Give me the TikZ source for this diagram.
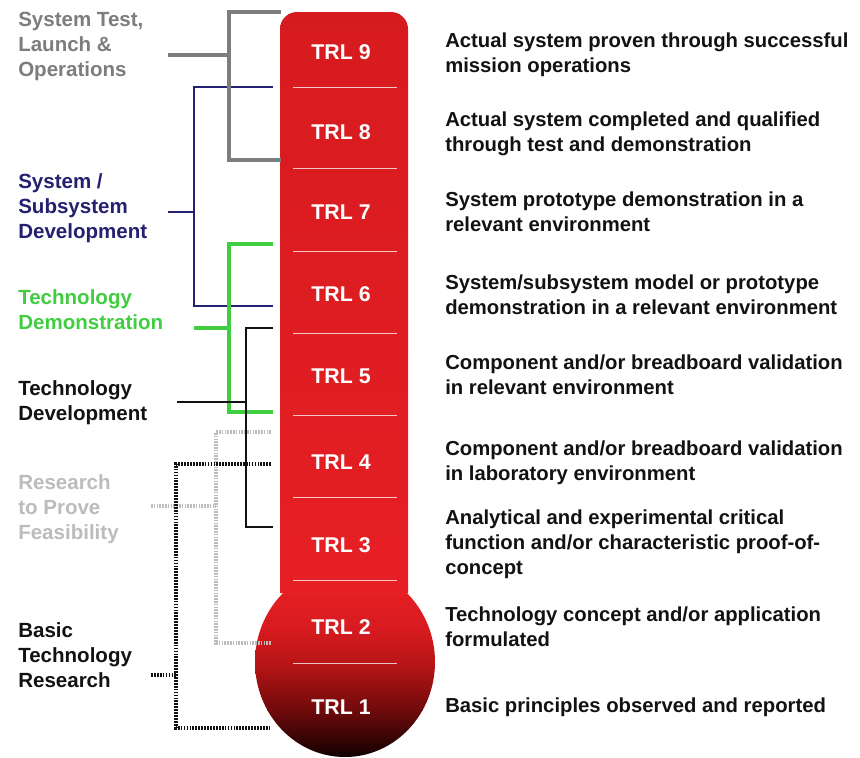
\documentclass[tikz,border=0pt]{standalone}
\usepackage{fontspec}
\setmainfont{Liberation Sans}
\begin{document}
\begin{tikzpicture}[x=0.75pt,y=-0.75pt]
% palette
\definecolor{tubetop}{RGB}{214,27,31}
\definecolor{tubered}{RGB}{230,31,36}
\definecolor{bulbA}{RGB}{214,27,31}
\definecolor{bulbB}{RGB}{182,20,22}
\definecolor{bulbC}{RGB}{112,10,11}
\definecolor{bulbbot}{RGB}{16,0,0}
\definecolor{phasegray}{RGB}{125,125,125}
\definecolor{phasenavy}{RGB}{38,32,112}
\definecolor{phasegreen}{RGB}{64,206,64}
\definecolor{phaselight}{RGB}{188,188,188}
\definecolor{ink}{RGB}{18,18,18}
\tikzset{
  trllabel/.style={text=white,font=\fontsize{16}{18}\selectfont\bfseries,inner sep=0pt},
  desc/.style={anchor=west,align=left,inner sep=0pt,text=ink,
    font=\fontsize{15.2}{18.75}\selectfont\bfseries},
  phase/.style={anchor=west,align=left,inner sep=0pt,
    font=\fontsize{15.4}{18.75}\selectfont\bfseries},
  divider/.style={white,opacity=0.75,line width=0.7pt},
  grayline/.style={phasegray,line width=2.5pt},
  navyline/.style={phasenavy,line width=1.5pt},
  navystub/.style={phasenavy,line width=2pt},
  greenline/.style={phasegreen,line width=2.3pt},
  blackline/.style={ink,line width=2pt},
  lightdots/.style={phaselight,line width=2.5pt,dash pattern=on 1.2pt off 0.9pt},
  blackdots/.style={ink,line width=2.7pt,dash pattern=on 1.3pt off 0.9pt},
}
% colour ramp of the thermometer body, from the top of the tube to the bottom of the bulb
\newcommand{\bodyramp}{%
  \shade[top color=tubetop,bottom color=tubered] (250,10) rectangle (440,590.5);
  \shade[top color=tubered,bottom color=bulbA] (250,590) rectangle (440,630.5);
  \shade[top color=bulbA,bottom color=bulbB] (250,630) rectangle (440,665.5);
  \shade[top color=bulbB,bottom color=bulbC] (250,665) rectangle (440,710.5);
  \shade[top color=bulbC,bottom color=bulbbot] (250,710) rectangle (440,758);
}
\useasboundingbox (0,0) rectangle (860,757);
\fill[white] (0,0) rectangle (860,757);

% thermometer: tube and bulb share one ramp
\begin{scope}
  \clip (280,593) -- (280,29) arc(180:270:17) -- (391,12)
    arc(270:360:17) -- (408,593) -- cycle;
  \bodyramp
\end{scope}
\begin{scope}
  \clip (345,662) ellipse[x radius=90,y radius=95];
  \bodyramp
\end{scope}

% level dividers
\foreach \yy in {87,168,251,333,415,497,580,663}
  \draw[divider] (293,\yy) -- (397,\yy);

% level labels
\node[trllabel] (trl9) at (341,52)  {TRL 9};
\node[trllabel] (trl8) at (341,132) {TRL 8};
\node[trllabel] (trl7) at (341,212) {TRL 7};
\node[trllabel] (trl6) at (341,294) {TRL 6};
\node[trllabel] (trl5) at (341,376) {TRL 5};
\node[trllabel] (trl4) at (341,462) {TRL 4};
\node[trllabel] (trl3) at (341,545) {TRL 3};
\node[trllabel] (trl2) at (341,627) {TRL 2};
\node[trllabel] (trl1) at (341,707) {TRL 1};

% level descriptions
\node[desc] (d9) at (445,55) {Actual system proven through successful\\mission operations};
\node[desc] (d8) at (445,134) {Actual system completed and qualified\\through test and demonstration};
\node[desc] (d7) at (445,212) {System prototype demonstration in a\\relevant environment};
\node[desc] (d6) at (445,295) {System/subsystem model or prototype\\demonstration in a relevant environment};
\node[desc] (d5) at (445,375) {Component and/or breadboard validation\\in relevant environment};
\node[desc] (d4) at (445,462.5) {Component and/or breadboard validation\\in laboratory environment};
\node[desc] (d3) at (445,544.5) {Analytical and experimental critical\\function and/or characteristic proof-of-\\concept};
\node[desc] (d2) at (445,626.5) {Technology concept and/or application\\formulated};
\node[desc] (d1) at (445,707) {Basic principles observed and reported};

% phase names
\node[phase,text=phasegray]  (pOps)  at (18,46)    {System Test,\\Launch \&\\Operations};
\node[phase,text=phasenavy]  (pSys)  at (18,208)   {System /\\Subsystem\\Development};
\node[phase,text=phasegreen] (pDemo) at (18,310) {Technology\\Demonstration};
\node[phase,text=ink]        (pDev)  at (18,402.5)   {Technology\\Development};
\node[phase,text=phaselight] (pFeas) at (18,509)   {Research\\to Prove\\Feasibility};
\node[phase,text=ink]        (pBasic) at (18,655.5)  {Basic\\Technology\\Research};

% bracket end points
\coordinate (opsTop) at (281,12);   \coordinate (opsBot) at (281,160);  \coordinate (opsStub) at (168,55);
\coordinate (sysTop) at (273,87);   \coordinate (sysBot) at (273,306);  \coordinate (sysStub) at (168,212);
\coordinate (demTop) at (273,244);  \coordinate (demBot) at (273,412);  \coordinate (demStub) at (194,328);
\coordinate (devTop) at (273,328);  \coordinate (devBot) at (273,527);  \coordinate (devStub) at (177,402);
\coordinate (feaTop) at (271,432);  \coordinate (feaBot) at (271,643);  \coordinate (feaStub) at (151,506);
\coordinate (basTop) at (271,464);  \coordinate (basBot) at (271,728);  \coordinate (basStub) at (151,675);

% brackets
\draw[navyline] (sysTop) -- ++(-79,0) |- (sysBot);
\draw[navystub] (sysStub) -- ++(26,0);
\draw[grayline] (opsTop) -- ++(-52,0) |- (opsBot);
\draw[grayline] (opsStub) -- ++(61,0);
\draw[greenline] (demTop) -- ++(-44,0) |- (demBot);
\draw[greenline] (demStub) -- ++(35,0);
\draw[lightdots] (feaTop) -- ++(-55,0) |- (feaBot);
\draw[lightdots] (feaStub) -- ++(65,0);
\draw[blackdots] (basTop) -- ++(-95,0) |- (basBot);
\draw[blackdots] (basStub) -- ++(25,0);
\draw[blackline] (devTop) -- ++(-27,0) |- (devBot);
\draw[blackline] (devStub) -- ++(69,0);
\end{tikzpicture}
\end{document}
